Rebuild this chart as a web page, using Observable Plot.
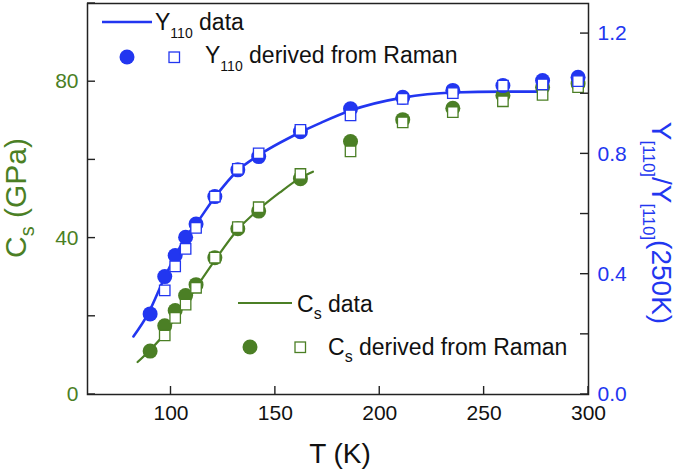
<!DOCTYPE html>
<html><head><meta charset="utf-8">
<script src="https://cdn.jsdelivr.net/npm/d3@7"></script>
<script src="https://cdn.jsdelivr.net/npm/@observablehq/plot@0.6"></script>
<style>body{margin:0;background:#fff}</style>
</head><body><div id="chart"></div>
<script>
// ---- data ----
const temps = [90, 97, 102, 107, 112, 121, 132, 142, 162, 186, 211, 235, 259, 278, 295];
const csRaman = [11.1, 17.6, 21.5, 25.3, 28.1, 35.0, 42.4, 46.9, 55.2, 64.7, 70.3, 73.2, 76.5, 78.6, 79.5];
const yRaman = [0.268, 0.392, 0.462, 0.523, 0.567, 0.658, 0.747, 0.791, 0.874, 0.950, 0.988, 1.011, 1.027, 1.044, 1.055];
const tempsSq = [97, 102, 107, 112, 121, 132, 142, 162, 186, 211, 235, 259, 278, 295];
const csRamanSq = [15.1, 19.6, 23.0, 27.3, 35.0, 42.8, 47.9, 56.4, 62.2, 69.6, 72.2, 75.0, 76.6, 78.6];
const yRamanSq = [0.346, 0.426, 0.484, 0.554, 0.658, 0.750, 0.802, 0.880, 0.928, 0.983, 1.002, 1.027, 1.031, 1.042];
const yDataT = [82, 89, 97, 103, 107, 112, 121, 132, 141, 162, 172, 186, 211, 235, 259, 276];
const yDataV = [0.193, 0.268, 0.390, 0.473, 0.523, 0.567, 0.656, 0.745, 0.791, 0.872, 0.904, 0.944, 0.987, 1.004, 1.007, 1.007];
const csDataT = [84, 90, 97, 102, 107, 112, 121, 132, 142, 152, 162, 168];
const csDataV = [8.3, 11.4, 15.6, 19.6, 23.3, 27.3, 34.3, 42.2, 47.3, 51.6, 55.4, 57.0];
const xTicks = [100, 150, 200, 250, 300];
const csTicks = [0, 20, 40, 60, 80, 100];
const csLabels = [0, 40, 80];
const rTicks = [0, 0.2, 0.4, 0.6, 0.8, 1.0, 1.2];
const rLabels = [0, 0.4, 0.8, 1.2];
const csDomain = [0, 100];
const rDomain = [0, 1.3];
const xDomain = [60, 300];

// ---- styling / layout ----
const GREEN = "#4b7f25";
const BLUE = "#2236f0";
const FONT = "'Liberation Sans', Arial, Helvetica, sans-serif";
const W = 677, H = 472, ML = 87, MR = 89, MT = 3, MB = 78;
const K = csDomain[1] / rDomain[1]; // ratio axis -> shared y scale
const TL = 8; // inward tick length, px

const rows = (xs, vs) => xs.map((t, i) => ({t, v: vs[i]}));
const gC = rows(temps, csRaman), gS = rows(tempsSq, csRamanSq), gL = rows(csDataT, csDataV);
const bC = rows(temps, yRaman), bS = rows(tempsSq, yRamanSq), bL = rows(yDataT, yDataV);
const ry = d => d.v * K;

const chart = Plot.plot({
  width: W, height: H,
  marginLeft: ML, marginRight: MR, marginTop: MT, marginBottom: MB,
  x: {domain: xDomain},
  y: {domain: csDomain},
  style: {fontFamily: FONT, background: "white", overflow: "visible"},
  marks: [
    Plot.line(gL, {x: "t", y: "v", stroke: GREEN, strokeWidth: 2.2, curve: "monotone-x"}),
    Plot.line(bL, {x: "t", y: ry, stroke: BLUE, strokeWidth: 2.6, curve: "monotone-x"}),
    Plot.dot(gC, {x: "t", y: "v", r: 7.5, fill: GREEN}),
    Plot.dot(gS, {x: "t", y: "v", r: 5.9, symbol: "square", fill: "white", stroke: GREEN, strokeWidth: 1.3}),
    Plot.dot(bC, {x: "t", y: ry, r: 7.5, fill: BLUE}),
    Plot.dot(bS, {x: "t", y: ry, r: 5.9, symbol: "square", fill: "white", stroke: BLUE, strokeWidth: 1.3}),
    Plot.frame({stroke: "#222", strokeWidth: 1.5}),
    // tick labels
    Plot.axisX(xTicks, {tickSize: 0, tickPadding: 11, fontSize: 21, fill: "#111", label: null}),
    Plot.axisY(csLabels, {anchor: "left", tickSize: 0, tickPadding: 9, fontSize: 21, fill: GREEN, label: null}),
    Plot.axisY(rLabels.map(r => r * K), {anchor: "right", tickSize: 0, tickPadding: 9, fontSize: 21, fill: BLUE, label: null,
      tickFormat: d => (d / K).toFixed(1)})
  ]
});
document.getElementById("chart").append(chart);

// ---- inward tick marks, positioned through the chart's own scales ----
const svg = d3.select(chart);
const sx = chart.scale("x"), sy = chart.scale("y");
const ticksG = svg.append("g").attr("stroke", "#222").attr("stroke-width", 1.4);
const yBottom = sy.apply(csDomain[0]), xLeft = sx.apply(xDomain[0]), xRight = sx.apply(xDomain[1]);
for (const t of xTicks) {
  const px = sx.apply(t);
  ticksG.append("line").attr("x1", px).attr("x2", px).attr("y1", yBottom).attr("y2", yBottom - TL);
}
for (const c of csTicks) {
  const py = sy.apply(c);
  ticksG.append("line").attr("x1", xLeft).attr("x2", xLeft + TL).attr("y1", py).attr("y2", py);
}
for (const r of rTicks) {
  const py = sy.apply(r * K);
  ticksG.append("line").attr("x1", xRight - TL).attr("x2", xRight).attr("y1", py).attr("y2", py);
}

// ---- titles and legend with subscripts ----
function rich(x, y, parts, o) {
  const t = svg.append("text").attr("font-family", FONT).attr("font-size", o.size)
    .attr("fill", o.color).style("white-space", "pre");
  if (o.rotate) t.attr("transform", `translate(${x},${y}) rotate(${o.rotate})`).attr("text-anchor", "middle");
  else t.attr("x", x).attr("y", y).attr("text-anchor", o.anchor || "start");
  let shifted = 0;
  for (const [s, sub] of parts) {
    const ts = t.append("tspan").text(s);
    if (sub) { ts.attr("font-size", o.sub).attr("dy", o.shift - shifted); shifted = o.shift; }
    else { ts.attr("dy", -shifted); shifted = 0; }
  }
  return t;
}
// axis titles
rich(340, 463, [["T (K)"]], {size: 28, color: "#111"}).attr("text-anchor", "middle");
rich(26, 198, [["C"], ["s", 1], [" (GPa)"]], {size: 30, sub: 20, shift: 8, color: GREEN, rotate: -90});
rich(652, 223, [["Y"], ["[110]", 1], ["/Y"], ["[110]", 1], ["(250K)"]], {size: 28, sub: 17, shift: 9, color: BLUE, rotate: 90});

// legend: Y110
svg.append("line").attr("x1", 102).attr("x2", 152).attr("y1", 22).attr("y2", 22).attr("stroke", BLUE).attr("stroke-width", 2.6);
rich(155, 30, [["Y"], ["110", 1], [" data"]], {size: 23, sub: 14, shift: 7.5, color: "#111"});
svg.append("circle").attr("cx", 127).attr("cy", 57).attr("r", 7.5).attr("fill", BLUE);
svg.append("rect").attr("x", 169).attr("y", 52).attr("width", 10.5).attr("height", 10.5).attr("fill", "white").attr("stroke", BLUE).attr("stroke-width", 1.3);
rich(205, 63, [["Y"], ["110", 1], [" derived from Raman"]], {size: 23, sub: 14, shift: 8, color: "#111"});

// legend: Cs
svg.append("line").attr("x1", 238).attr("x2", 292).attr("y1", 303).attr("y2", 303).attr("stroke", GREEN).attr("stroke-width", 2.2);
rich(297, 312, [["C"], ["s", 1], [" data"]], {size: 23, sub: 16, shift: 7, color: "#111"});
svg.append("circle").attr("cx", 250).attr("cy", 347).attr("r", 7.5).attr("fill", GREEN);
svg.append("rect").attr("x", 295).attr("y", 342).attr("width", 10.5).attr("height", 10.5).attr("fill", "white").attr("stroke", GREEN).attr("stroke-width", 1.3);
rich(328, 355, [["C"], ["s", 1], [" derived from Raman"]], {size: 23, sub: 16, shift: 7, color: "#111"});
</script>
</body></html>
